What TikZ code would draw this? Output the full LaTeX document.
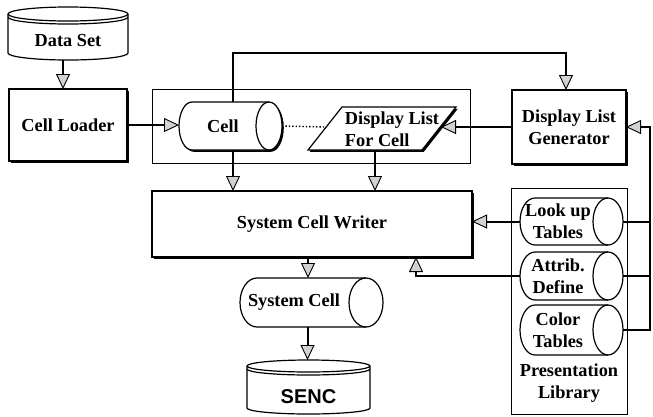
\documentclass[tikz,border=0pt]{standalone}
\usepackage{fontspec}
\setmainfont{Liberation Serif}
\newfontfamily\labelsans{Liberation Sans}
\usetikzlibrary{arrows.meta,shadows}

\tikzset{
  every node/.style={font=\fontsize{18.3}{22}\selectfont\bfseries, align=center, inner sep=0pt, outer sep=0pt},
  solid body/.style={draw=black, line width=1.2pt, fill=white},
  plain stroke/.style={draw=black, line width=1.2pt},
  cast/.style={drop shadow={shadow xshift=1.8pt, shadow yshift=-1.8pt, opacity=1, fill=black}},
  box/.style={solid body, cast},
  frame/.style={draw=black, line width=1pt},
  link/.style={draw=black, line width=2pt},
  flow/.style={link, -{Triangle[length=15pt, width=14pt, line width=0.9pt, fill=gray!35]}},
  dots/.style={draw=black, line width=1.4pt, dash pattern=on 1.4pt off 2pt},
  cylbody/.style={solid body},
}

% horizontal cylinder: name, left, top, right, bottom, cap radius, text x, text
\newcommand\hcyl[8]{%
  \pgfmathsetmacro\cyRY{(#5-#3)/2}%
  \pgfmathsetmacro\cyMY{(#3+#5)/2}%
  \pgfmathsetmacro\cyA{#2+#6}%
  \pgfmathsetmacro\cyB{#4-#6}%
  \pgfmathsetmacro\cyW{#4-#2}%
  \pgfmathsetmacro\cyH{#5-#3}%
  \path[cylbody] (\cyA,#3) -- (\cyB,#3)
     arc[start angle=90,end angle=-90,x radius=#6pt,y radius=\cyRY pt]
     -- (\cyA,#5)
     arc[start angle=270,end angle=90,x radius=#6pt,y radius=\cyRY pt] -- cycle;
  \draw[plain stroke] (\cyB,#3) arc[start angle=90,end angle=270,x radius=#6pt,y radius=\cyRY pt];
  \node[minimum width=\cyW pt, minimum height=\cyH pt] (#1) at ({(#2+#4)/2},\cyMY) {};
  \node (#1-t) at (#7,\cyMY) {#8};
}

% upright drum: name, left, top, right, bottom, cap radius, text y, text
\newcommand\vdrum[8]{%
  \pgfmathsetmacro\drRX{(#4-#2)/2}%
  \pgfmathsetmacro\drCX{(#2+#4)/2}%
  \pgfmathsetmacro\drTop{#3+#6}%
  \pgfmathsetmacro\drBot{#5-#6}%
  \pgfmathsetmacro\drDbl{#3+#6+3}%
  \pgfmathsetmacro\drW{#4-#2}%
  \pgfmathsetmacro\drH{#5-#3}%
  \path[solid body] (#2,\drTop)
     arc[start angle=180,end angle=0,x radius=\drRX pt,y radius=#6pt]
     -- (#4,\drBot)
     arc[start angle=0,end angle=-180,x radius=\drRX pt,y radius=#6pt] -- cycle;
  \draw[plain stroke] (#2,\drTop) arc[start angle=180,end angle=360,x radius=\drRX pt,y radius=#6pt];
  \draw[plain stroke] (#2,\drDbl) arc[start angle=180,end angle=360,x radius=\drRX pt,y radius=#6pt];
  \node[minimum width=\drW pt, minimum height=\drH pt] (#1) at (\drCX,{(#3+#5)/2}) {};
  \node (#1-t) at (\drCX,#7) {#8};
}

\begin{document}
\begin{tikzpicture}[x=1pt, y=-1pt]
  \fill[white] (0,0) rectangle (653,416);
  \useasboundingbox (0,0) rectangle (653,416);

  % sources and loader
  \vdrum{ds}{8}{7}{128}{60}{7}{41}{Data Set}
  \node[box, minimum width=118pt, minimum height=72pt] (loader) at (68,125) {Cell Loader};

  % cell group
  \node[frame, minimum width=318pt, minimum height=74pt] (grp) at (311,126) {};
  \begin{scope}[cylbody/.append style={cast}]
    \hcyl{cell}{179}{102}{282}{150}{13}{223}{Cell}
  \end{scope}
  \path[box] (342,107) -- (456,107) -- (422,150) -- (308,150) -- cycle;
  \node[align=left] (dl) at (392,129) {Display List\\For Cell};
  \coordinate (dl-w) at (325,127);
  \coordinate (dl-e) at (441,127);
  \coordinate (dl-s) at (375,150);

  % generator and writer
  \node[box, minimum width=114pt, minimum height=74pt] (dlg) at (569,127) {Display List\\Generator};
  \node[box, minimum width=320pt, minimum height=66pt] (scw) at (312,224) {System Cell Writer};

  % presentation library
  \node[frame, fill=white, minimum width=116pt, minimum height=226pt] (plib) at (569,301) {};
  \node (plib-t) at (569,383) {Presentation\\Library};
  \hcyl{lookup}{520}{198}{623}{245}{15}{558}{Look up\\Tables}
  \hcyl{attrib}{520}{252}{623}{300}{15}{558}{Attrib.\\Define}
  \hcyl{color}{520}{305}{623}{355}{15}{558}{Color\\Tables}

  % output
  \hcyl{syscell}{240}{278}{383}{327}{17}{294}{System Cell}
  \vdrum{senc}{247}{360}{370}{414}{6}{397}{\labelsans\fontsize{20}{23}\selectfont SENC}

  % connectors
  \draw[flow] ([xshift=-5pt]ds.south) -- ([xshift=-5pt]ds.south |- loader.north);
  \draw[flow] (loader.east) -- (loader.east -| cell.west);
  \draw[flow] ([xshift=2.5pt]cell.north) -- ++(0,-49) -| ([xshift=-3pt]dlg.north);
  \draw[dots] (cell.east) -- (dl-w);
  \draw[flow] (dlg.west) -- (dl-e);
  \draw[flow] ([xshift=2.5pt]cell.south) -- ([xshift=2.5pt]cell.south |- scw.north);
  \draw[flow] (dl-s) -- (dl-s |- scw.north);
  \coordinate (bus) at (650,127);
  \draw[flow] (color.east) -| (bus) -- (dlg.east);
  \draw[link] (lookup.east) -- (lookup.east -| bus);
  \draw[link] (attrib.east) -- (attrib.east -| bus);
  \draw[flow] (lookup.west) -- (lookup.west -| scw.east);
  \draw[flow] (attrib.west) -| ([xshift=104pt]scw.south);
  \draw[flow] ([xshift=-4pt]scw.south) -- ([xshift=-4pt]scw.south |- syscell.north);
  \draw[flow] ([xshift=-4pt]syscell.south) -- ([xshift=-4pt]syscell.south |- senc.north);
\end{tikzpicture}
\end{document}
